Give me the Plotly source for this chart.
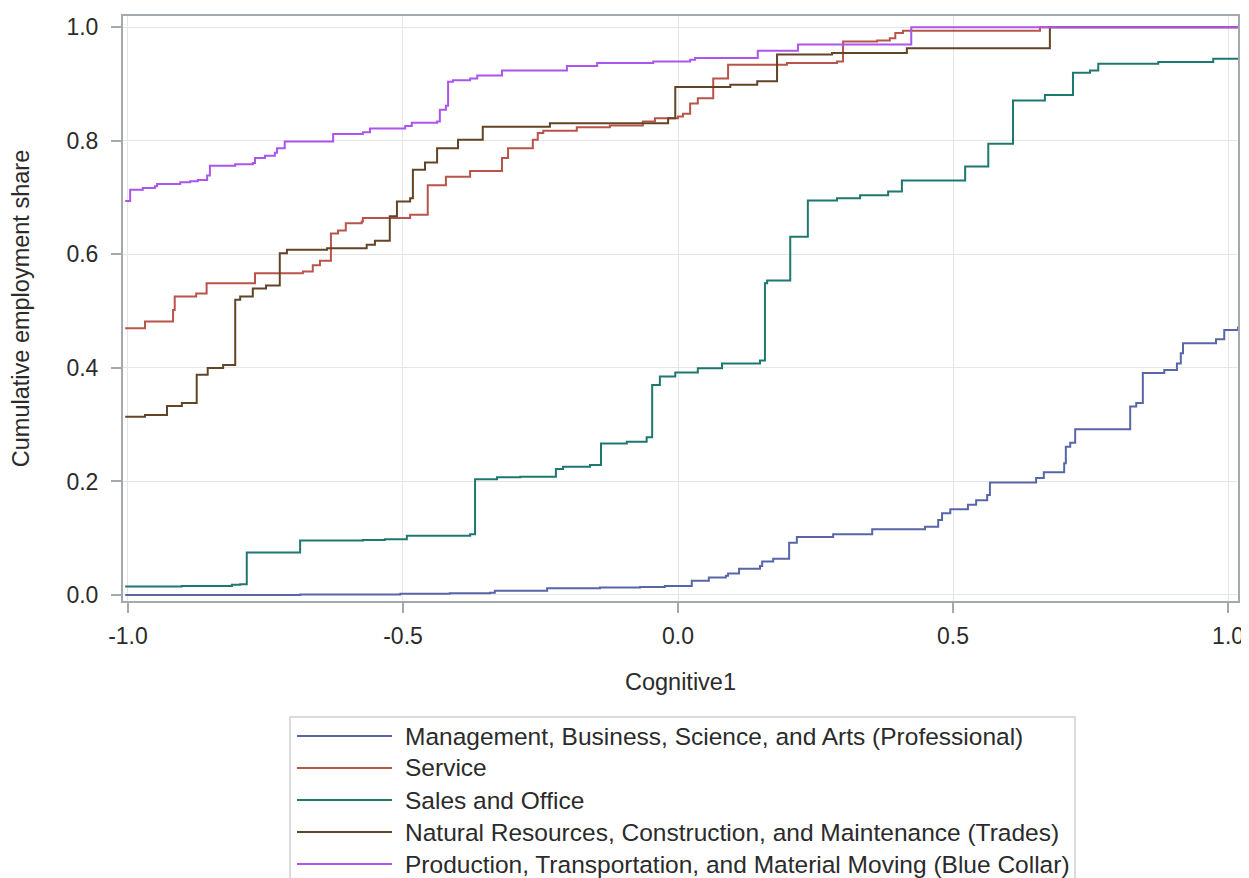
import plotly.graph_objects as go

# ---------------- data ----------------
series_names = [
    "Management, Business, Science, and Arts (Professional)",
    "Service",
    "Sales and Office",
    "Natural Resources, Construction, and Maintenance (Trades)",
    "Production, Transportation, and Material Moving (Blue Collar)",
]
series_colors = ["#5866a8", "#b8544a", "#1f7870", "#634426", "#ab55ee"]

prof_x = [-1.005, -0.687, -0.505, -0.415, -0.342, -0.333, -0.238, -0.142, -0.069, -0.024,
          0.025, 0.056, 0.087, 0.091, 0.111, 0.149, 0.153, 0.173, 0.202, 0.216, 0.282,
          0.353, 0.449, 0.473, 0.480, 0.495, 0.527, 0.542, 0.562, 0.567, 0.651, 0.665,
          0.702, 0.705, 0.713, 0.722, 0.822, 0.833, 0.845, 0.884, 0.907, 0.914, 0.918,
          0.978, 0.993, 1.018]
prof_y = [0.000, 0.001, 0.002, 0.003, 0.004, 0.0076, 0.012, 0.013, 0.014, 0.016,
          0.025, 0.031, 0.034, 0.038, 0.046, 0.051, 0.059, 0.064, 0.092, 0.102, 0.107,
          0.116, 0.120, 0.132, 0.144, 0.151, 0.159, 0.167, 0.176, 0.198, 0.206, 0.216,
          0.232, 0.261, 0.268, 0.292, 0.332, 0.338, 0.391, 0.3965, 0.408, 0.426, 0.4435,
          0.4505, 0.467, 0.473]

serv_x = [-1.005, -0.969, -0.918, -0.915, -0.876, -0.857, -0.769, -0.682, -0.664, -0.651,
          -0.631, -0.618, -0.604, -0.575, -0.573, -0.487, -0.455, -0.422, -0.378, -0.320,
          -0.309, -0.264, -0.255, -0.245, -0.184, -0.124, -0.064, -0.042, 0.000, 0.009,
          0.022, 0.036, 0.064, 0.091, 0.198, 0.289, 0.300, 0.362, 0.385, 0.395, 0.409,
          0.658, 1.018]
serv_y = [0.470, 0.482, 0.502, 0.526, 0.531, 0.549, 0.567, 0.570, 0.581, 0.589,
          0.637, 0.642, 0.655, 0.658, 0.664, 0.670, 0.722, 0.737, 0.747, 0.770,
          0.787, 0.802, 0.814, 0.818, 0.824, 0.827, 0.834, 0.840, 0.843, 0.848,
          0.866, 0.875, 0.910, 0.934, 0.937, 0.940, 0.975, 0.977, 0.981, 0.990, 0.994,
          1.000, 1.000]

sales_x = [-1.005, -0.902, -0.811, -0.796, -0.784, -0.687, -0.573, -0.533, -0.493, -0.378,
           -0.369, -0.329, -0.287, -0.222, -0.209, -0.160, -0.140, -0.093, -0.057, -0.047,
           -0.033, -0.005, 0.036, 0.080, 0.149, 0.158, 0.162, 0.204, 0.236, 0.289, 0.331,
           0.382, 0.407, 0.522, 0.564, 0.609, 0.667, 0.718, 0.749, 0.764, 0.873, 0.973,
           1.018]
sales_y = [0.015, 0.016, 0.018, 0.019, 0.075, 0.096, 0.097, 0.098, 0.1045, 0.107,
           0.204, 0.2075, 0.2085, 0.222, 0.226, 0.229, 0.267, 0.270, 0.278, 0.370,
           0.385, 0.392, 0.3995, 0.408, 0.413, 0.549, 0.554, 0.631, 0.695, 0.699, 0.704,
           0.711, 0.730, 0.755, 0.795, 0.871, 0.881, 0.920, 0.924, 0.936, 0.939, 0.9445,
           0.9445]

trades_x = [-1.005, -0.969, -0.929, -0.902, -0.875, -0.855, -0.827, -0.805, -0.796, -0.773,
            -0.749, -0.724, -0.711, -0.638, -0.566, -0.551, -0.524, -0.511, -0.487, -0.482,
            -0.460, -0.438, -0.400, -0.355, -0.233, -0.018, -0.005, 0.095, 0.144, 0.180,
            0.280, 0.416, 0.676, 1.018]
trades_y = [0.314, 0.317, 0.333, 0.338, 0.388, 0.400, 0.405, 0.520, 0.526, 0.540,
            0.545, 0.602, 0.608, 0.611, 0.617, 0.624, 0.667, 0.693, 0.699, 0.749,
            0.762, 0.787, 0.802, 0.825, 0.831, 0.840, 0.895, 0.899, 0.905, 0.952,
            0.955, 0.963, 1.000, 1.000]

blue_x = [-1.005, -0.996, -0.973, -0.951, -0.947, -0.905, -0.887, -0.873, -0.856, -0.851,
          -0.805, -0.773, -0.769, -0.751, -0.733, -0.729, -0.715, -0.627, -0.573, -0.560,
          -0.496, -0.484, -0.438, -0.433, -0.422, -0.418, -0.409, -0.378, -0.365, -0.320,
          -0.202, -0.147, -0.045, 0.022, 0.031, 0.145, 0.218, 0.424, 1.018]
blue_y = [0.694, 0.714, 0.717, 0.720, 0.724, 0.727, 0.729, 0.731, 0.739, 0.756,
          0.759, 0.761, 0.770, 0.774, 0.779, 0.787, 0.799, 0.812, 0.815, 0.822,
          0.826, 0.832, 0.834, 0.855, 0.862, 0.904, 0.907, 0.910, 0.915, 0.924,
          0.932, 0.937, 0.940, 0.943, 0.946, 0.959, 0.970, 1.000, 1.000]

xs = [prof_x, serv_x, sales_x, trades_x, blue_x]
ys = [prof_y, serv_y, sales_y, trades_y, blue_y]

x_ticks = [-1.0, -0.5, 0.0, 0.5, 1.0]
y_ticks = [0.0, 0.2, 0.4, 0.6, 0.8, 1.0]
x_title = "Cognitive1"
y_title = "Cumulative employment share"

# ---------------- figure ----------------
OFF = 8                      # default body margin of the written html page
PAGE_W, PAGE_H = 1249, 878
W, H = PAGE_W - OFF, PAGE_H - OFF
# plot area in page pixels: x 123..1238, y 16..601
ML, MT = 123 - OFF, 16 - OFF
MR = W - (1238 - OFF)
MB = H - (601 - OFF)
PW, PH = W - ML - MR, H - MT - MB
FONT = "Liberation Sans, Arial, sans-serif"
TXT = "#2b2b2b"


def px2paper_x(px):
    return (px - OFF - ML) / PW


def py2paper_y(py):
    return (H - MB - (py - OFF)) / PH


fig = go.Figure()
for name, col, x, y in zip(series_names, series_colors, xs, ys):
    fig.add_trace(go.Scatter(x=x, y=y, mode="lines", name=name,
                             line=dict(color=col, width=2, shape="hv"),
                             showlegend=False))

# manual legend (long sample lines as in the reference)
shapes = [dict(type="rect", xref="paper", yref="paper",
               x0=px2paper_x(290), x1=px2paper_x(1075),
               y0=py2paper_y(717), y1=py2paper_y(905),
               line=dict(color="#cfcfcf", width=1.5), fillcolor="white", layer="below")]
annotations = []
row_y = [736, 768, 800, 832, 864]
for name, col, ry in zip(series_names, series_colors, row_y):
    shapes.append(dict(type="line", xref="paper", yref="paper",
                       x0=px2paper_x(297), x1=px2paper_x(392),
                       y0=py2paper_y(ry), y1=py2paper_y(ry),
                       line=dict(color=col, width=2)))
    annotations.append(dict(text=name, xref="paper", yref="paper",
                            x=px2paper_x(403), y=py2paper_y(ry),
                            xanchor="left", yanchor="middle", showarrow=False,
                            font=dict(family=FONT, size=24.5, color=TXT)))

axis_common = dict(showline=True, linecolor="#a3a9ad", linewidth=2, mirror=True,
                   showgrid=True, gridcolor="#e6e6e6", gridwidth=1.2,
                   ticks="outside", ticklen=10, tickcolor="#a3a9ad", tickwidth=1.5,
                   zeroline=False,
                   tickfont=dict(family=FONT, size=23, color=TXT))

fig.update_layout(
    width=W, height=H,
    margin=dict(l=ML, r=MR, t=MT, b=MB, autoexpand=False),
    paper_bgcolor="white", plot_bgcolor="white",
    font=dict(family=FONT, size=23, color=TXT),
    xaxis=dict(range=[-1.009, 1.018], tickvals=x_ticks,
               ticktext=[f"{v:.1f}" for v in x_ticks],
               ticklabelstandoff=3,
               title=dict(text=x_title, standoff=26,
                          font=dict(family=FONT, size=23.5, color=TXT)),
               **axis_common),
    yaxis=dict(range=[-0.0106, 1.020], tickvals=y_ticks,
               ticktext=[f"{v:.1f}" for v in y_ticks],
               ticklabelstandoff=8,
               title=dict(text=y_title, standoff=32,
                          font=dict(family=FONT, size=23.5, color=TXT)),
               **axis_common),
    shapes=shapes, annotations=annotations, showlegend=False,
)

fig.write_html("out.html")
